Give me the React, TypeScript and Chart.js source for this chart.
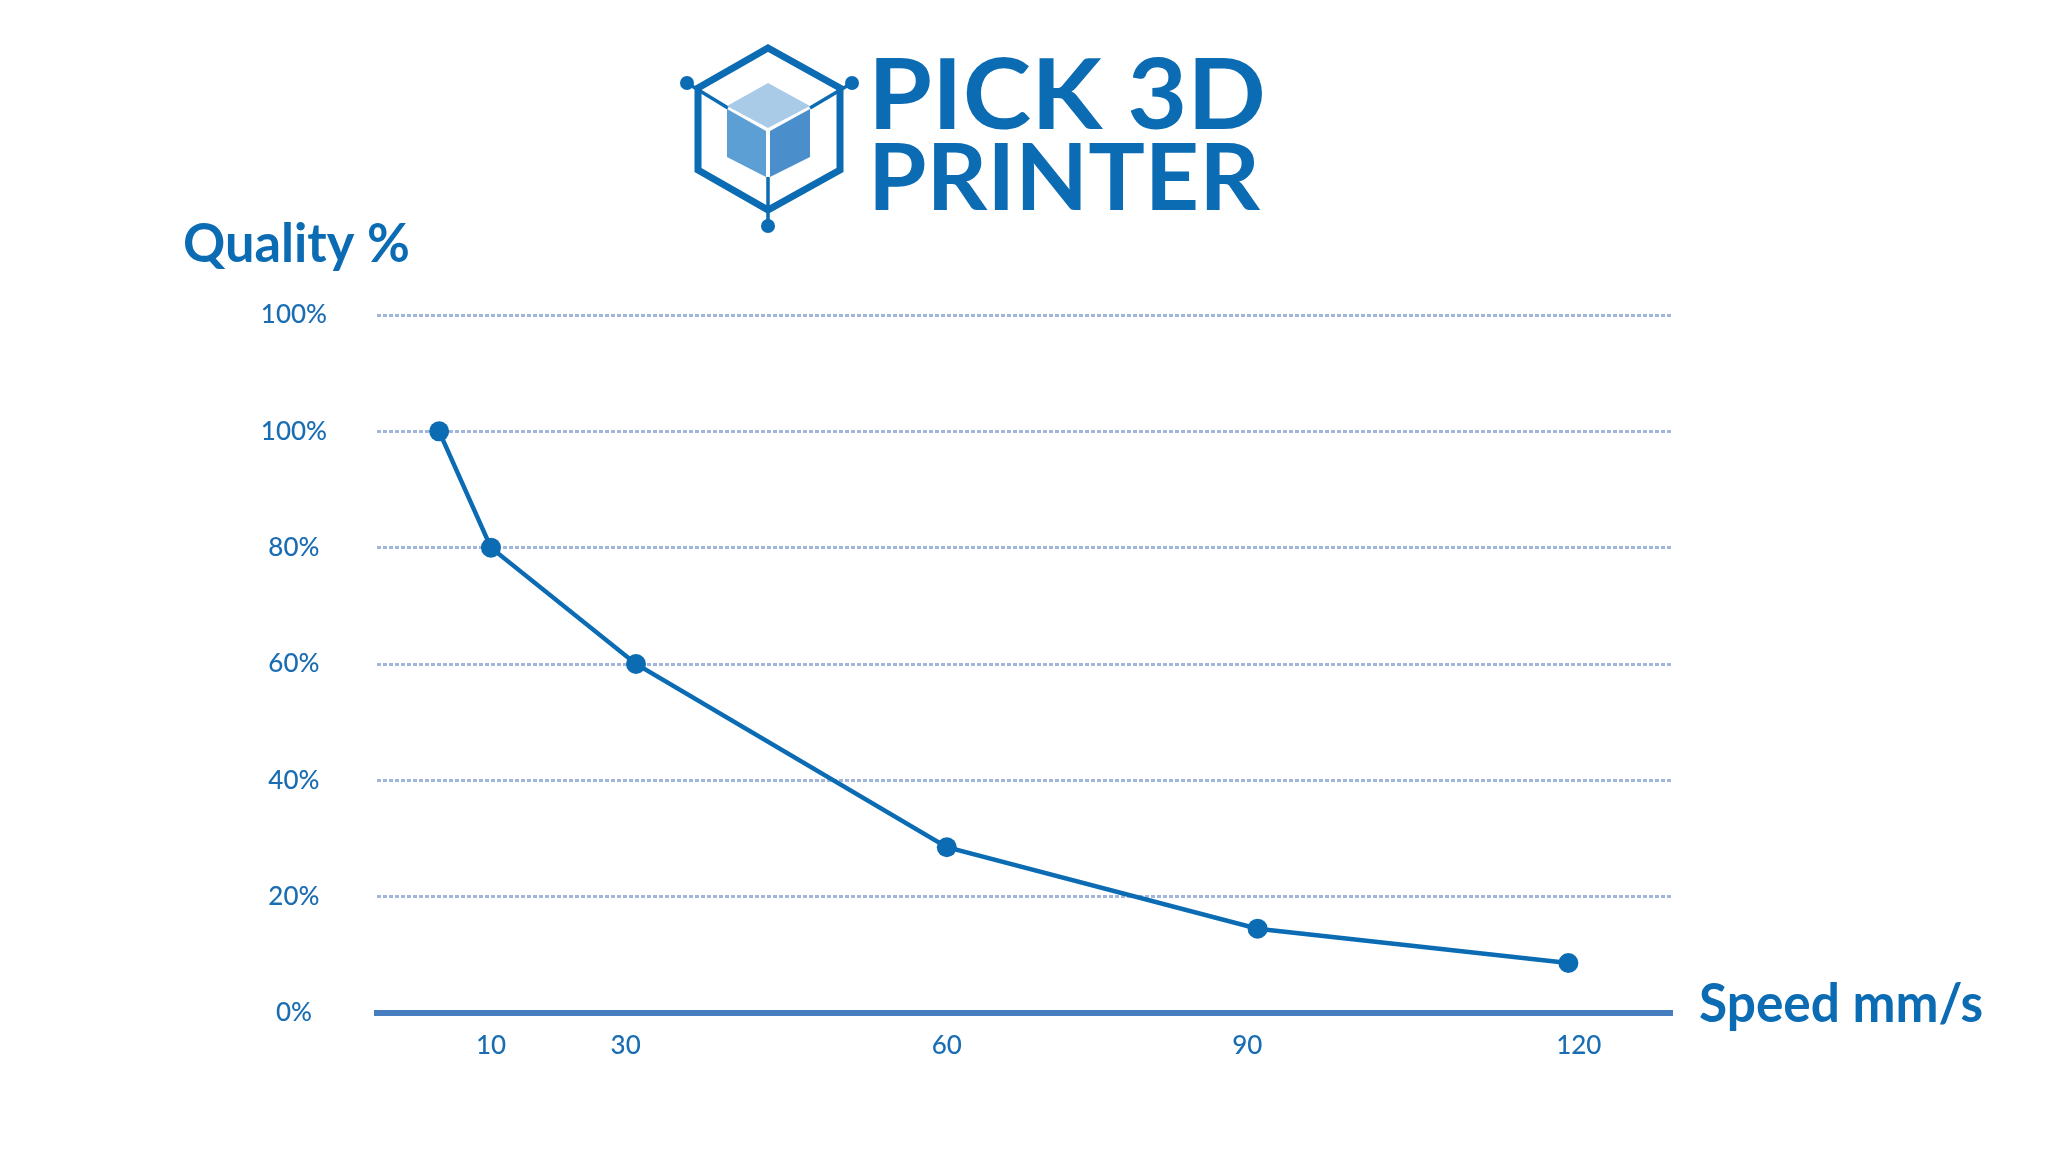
import React, { useEffect, useRef } from "react";
import { Chart, registerables } from "chart.js";

Chart.register(...registerables);

// ---- data ----
const speedPositions = [11, 16, 30, 60, 90, 120];
const qualityValues = [100, 80, 60, 28.5, 14.5, 8.6];
const xTickPositions = [16, 29, 60, 89, 121];
const xTickLabels = ["10", "30", "60", "90", "120"];
const yTickValues = [0, 20, 40, 60, 80, 100, 120];
const yTickLabels = ["0%", "20%", "40%", "60%", "80%", "100%", "100%"];
const yAxisTitle = "Quality %";
const xAxisTitle = "Speed mm/s";
const logoLines = ["PICK 3D", "PRINTER"];

const BLUE = "#0b6cb4";
const TICK_BLUE = "#1a6db3";
const GRID = "#a0b6da";
const AXIS = "#457dbf";

function drawFitted(ctx: CanvasRenderingContext2D, text: string, x: number, y: number, width: number, font: string) {
  ctx.save();
  ctx.font = font;
  const w = ctx.measureText(text).width;
  ctx.translate(x, y);
  ctx.scale(width / w, 1);
  ctx.fillText(text, 0, 0);
  ctx.restore();
}

function poly(ctx: CanvasRenderingContext2D, pts: number[][], fill?: string) {
  ctx.beginPath();
  ctx.moveTo(pts[0][0], pts[0][1]);
  for (let i = 1; i < pts.length; i++) ctx.lineTo(pts[i][0], pts[i][1]);
  ctx.closePath();
  if (fill) {
    ctx.fillStyle = fill;
    ctx.fill();
  } else ctx.stroke();
}

function dot(ctx: CanvasRenderingContext2D, x: number, y: number, r: number) {
  ctx.beginPath();
  ctx.arc(x, y, r, 0, Math.PI * 2);
  ctx.fill();
}

const decor = {
  id: "decor",
  afterDraw(chart: any) {
    const ctx: CanvasRenderingContext2D = chart.ctx;
    ctx.save();
    ctx.fillStyle = BLUE;
    ctx.textAlign = "left";
    ctx.textBaseline = "alphabetic";
    drawFitted(ctx, yAxisTitle, 183, 262, 227, "bold 53px Lato");
    drawFitted(ctx, xAxisTitle, 1699, 1022, 284, "bold 53px Lato");

    drawFitted(ctx, logoLines[0], 868, 129, 398, "bold 97px Lato");
    drawFitted(ctx, logoLines[1], 868, 210, 392, "bold 91px Lato");

    // logo icon
    ctx.strokeStyle = BLUE;
    ctx.fillStyle = BLUE;
    ctx.lineWidth = 7;
    ctx.lineJoin = "miter";
    poly(ctx, [
      [768, 48],
      [840, 88],
      [840, 170],
      [768, 210],
      [698, 170],
      [698, 88],
    ]);
    ctx.lineWidth = 3.5;
    ctx.beginPath();
    ctx.moveTo(687, 83);
    ctx.lineTo(728, 108);
    ctx.moveTo(852, 83);
    ctx.lineTo(810, 108);
    ctx.moveTo(768, 177);
    ctx.lineTo(768, 225);
    ctx.stroke();
    dot(ctx, 687, 83, 7);
    dot(ctx, 852, 83, 7);
    dot(ctx, 768, 226, 7);
    poly(ctx, [
      [768, 83],
      [810, 106],
      [768, 128],
      [727, 106],
    ], "#a9cbe8");
    poly(ctx, [
      [727, 109],
      [766, 131],
      [766, 177],
      [727, 157],
    ], "#5c9fd4");
    poly(ctx, [
      [770, 131],
      [810, 109],
      [810, 157],
      [770, 177],
    ], "#4a8ecb");
    ctx.restore();
  },
};

export default function App() {
  const ref = useRef<HTMLCanvasElement>(null);
  useEffect(() => {
    const chart = new Chart(ref.current as HTMLCanvasElement, {
      type: "line",
      data: {
        datasets: [
          {
            data: speedPositions.map((x, i) => ({ x, y: qualityValues[i] })),
            borderColor: BLUE,
            backgroundColor: BLUE,
            borderWidth: 4.5,
            pointRadius: 10,
            pointHoverRadius: 10,
            pointBackgroundColor: BLUE,
            pointBorderWidth: 0,
            tension: 0,
            fill: false,
          },
        ],
      },
      options: {
        responsive: false,
        animation: false,
        layout: { padding: { left: 0, right: 376, top: 315, bottom: 67 } },
        plugins: {
          legend: { display: false },
          tooltip: { enabled: false },
          title: { display: false },
        },
        scales: {
          x: {
            type: "linear",
            min: 5,
            max: 130,
            afterFit: (s: any) => {
              s.height = 80;
            },
            afterBuildTicks: (s: any) => {
              s.ticks = xTickPositions.map((v) => ({ value: v }));
            },
            grid: { display: false, drawTicks: false },
            border: { display: true, color: AXIS, width: 6 },
            ticks: {
              autoSkip: false,
              maxRotation: 0,
              padding: 17,
              color: TICK_BLUE,
              font: { family: "Lato", size: 26, weight: "500" },
              callback: (_v: any, i: number) => xTickLabels[i],
            },
          },
          y: {
            type: "linear",
            min: 0,
            max: 120,
            afterFit: (s: any) => {
              s.width = 377;
            },
            afterBuildTicks: (s: any) => {
              s.ticks = yTickValues.map((v) => ({ value: v }));
            },
            grid: { color: GRID, lineWidth: 3, drawTicks: false },
            border: { display: false, dash: [4, 2] },
            ticks: {
              padding: 50,
              crossAlign: "center",
              color: TICK_BLUE,
              font: { family: "Lato", size: 26, weight: "500" },
              callback: (_v: any, i: number) => yTickLabels[i],
            },
          },
        },
      },
      plugins: [decor],
    } as any);
    return () => chart.destroy();
  }, []);
  return (
    <div style={{ position: "fixed", left: 0, top: 0, width: 2048, height: 1160, background: "#fff" }}>
      <canvas ref={ref} width={2048} height={1160} style={{ display: "block", width: 2048, height: 1160 }} />
    </div>
  );
}
